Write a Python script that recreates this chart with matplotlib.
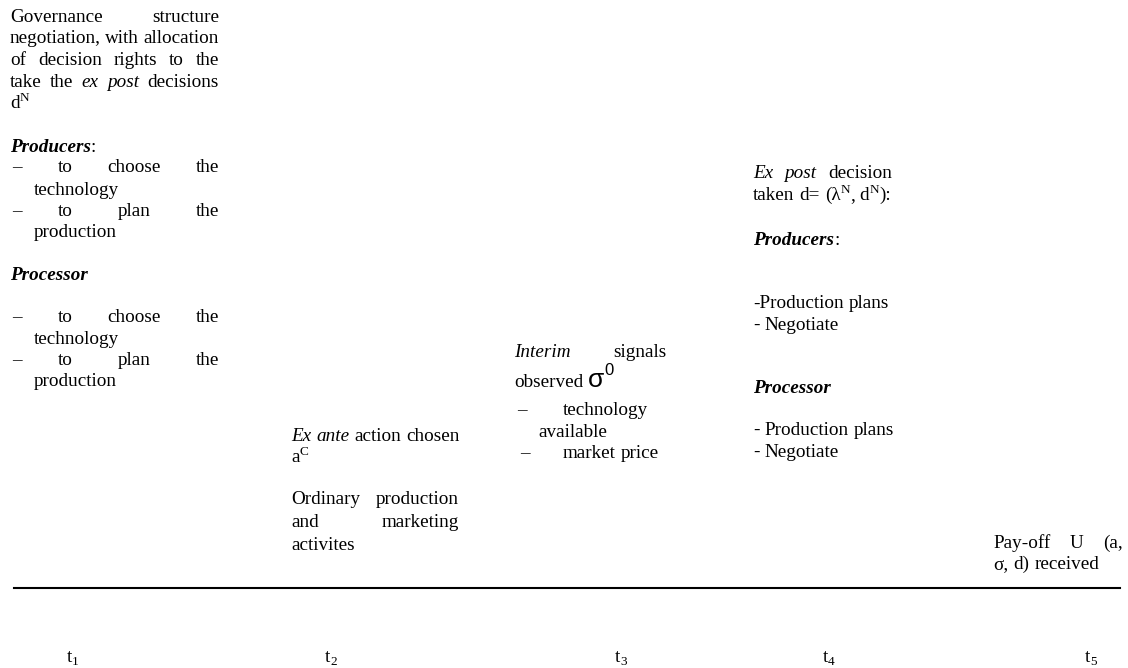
import re
import matplotlib.pyplot as plt

plt.rcParams['font.family'] = ['Liberation Serif', 'DejaVu Serif']

# markup: **bold italic**, *italic*, ^superscript^, _subscript_, {big sans}, [raised sup]
col1_lines = [
    "Governance structure",
    "negotiation, with allocation",
    "of decision rights  to the",
    "take the *ex post* decisions",
    "d^N^",
    "**Producers**:",
    "–", "to choose the", "technology",
    "–", "to plan the", "production",
    "**Processor**",
    "–", "to choose the", "technology",
    "–", "to plan the", "production",
]
col2_lines = [
    "*Ex ante* action chosen",
    "a^C^",
    "Ordinary production",
    "and marketing",
    "activites",
]
col3_lines = [
    "*Interim* signals",
    "observed {σ}[0]",
    "–", "technology",
    "available",
    "–", "market price",
]
col4_lines = [
    "*Ex post* decision",
    "taken d= (λ^N^, d^N^):",
    "**Producers**:",
    "-Production plans",
    "- Negotiate",
    "**Processor**",
    "- Production plans",
    "- Negotiate",
]
col5_lines = [
    "Pay-off U (a,",
    "σ, d) received",
]
time_labels = ["t_1_", "t_2_", "t_3_", "t_4_", "t_5_"]

# positions: (left x, baseline y, right x for justified lines or None)
col1_pos = [
    (10, 22, 219), (10, 43, 219), (10, 65, 219), (10, 87, 219), (10, 108, None),
    (10, 152, None),
    (12, 172, None), (58, 172, 219), (34, 195, None),
    (12, 216, None), (58, 216, 219), (34, 237, None),
    (10, 280, None),
    (12, 322, None), (58, 322, 219), (34, 344, None),
    (12, 365, None), (58, 365, 219), (34, 386, None),
]
col2_pos = [(291, 441, 460), (291, 462, None), (291, 504, 459), (291, 527, 459), (291, 550, None)]
col3_pos = [(514, 357, 667), (514, 387, None), (517, 415, None), (563, 415, None),
            (538, 437, None), (520, 458, None), (563, 458, None)]
col4_pos = [(753, 178, 892), (753, 200, None), (753, 245, None), (753, 308, None),
            (753, 330, None), (753, 393, None), (753, 435, None), (753, 457, None)]
col5_pos = [(993, 548, 1123), (993, 569, None)]
time_x = [67, 325, 615, 823, 1085]
time_y = 662
line_y = 588

BODY = 13.8
STYLES = {
    'n': dict(size=BODY),
    'i': dict(size=BODY, style='italic'),
    'bi': dict(size=BODY, style='italic', weight='bold'),
    'sup': dict(size=9.5),
    'sub': dict(size=9.5),
    'big': dict(size=19, family='Liberation Sans'),
    'hsup': dict(size=12, family='Liberation Sans'),
}
SHIFT = {'sup': -7, 'sub': 3, 'hsup': -12}

fig = plt.figure(figsize=(11.28, 6.68), dpi=100)
ax = fig.add_axes([0, 0, 1, 1])
ax.set_xlim(0, 1128)
ax.set_ylim(668, 0)
ax.axis('off')
renderer = fig.canvas.get_renderer()

pattern = re.compile(r'\*\*(.+?)\*\*|\*(.+?)\*|\^(.+?)\^|_(.+?)_|\{(.+?)\}|\[(.+?)\]|([^*^_{}\[\]]+)')
KINDS = ['bi', 'i', 'sup', 'sub', 'big', 'hsup', 'n']


def parse(s):
    runs = []
    for m in pattern.finditer(s):
        for kind, g in zip(KINDS, m.groups()):
            if g:
                runs.append((g, kind))
                break
    words = [[]]
    for text, kind in runs:
        parts = text.split(' ')
        for k, p in enumerate(parts):
            if k > 0:
                words.append([])
            if p:
                words[-1].append((p, kind))
    return [w for w in words if w]


def make_word(word, y):
    arts = []
    for text, kind in word:
        t = ax.text(0, y + SHIFT.get(kind, 0), text, ha='left', va='baseline',
                    color='black', **STYLES[kind])
        arts.append((t, t.get_window_extent(renderer).width))
    return arts, sum(w for _, w in arts)


def draw_line(s, x0, y, x1=None):
    words = [make_word(w, y) for w in parse(s)]
    total = sum(w for _, w in words)
    gap = 5
    if x1 is not None and len(words) > 1:
        gap = (x1 - x0 - total) / (len(words) - 1)
    x = x0
    for arts, w in words:
        xx = x
        for t, tw in arts:
            t.set_x(xx)
            xx += tw
        x += w + gap


for lines, pos in [(col1_lines, col1_pos), (col2_lines, col2_pos), (col3_lines, col3_pos),
                   (col4_lines, col4_pos), (col5_lines, col5_pos)]:
    for s, (x0, y, x1) in zip(lines, pos):
        draw_line(s, x0, y, x1)

ax.plot([14, 1120], [line_y, line_y], color='black', lw=1.5)

for lab, x in zip(time_labels, time_x):
    draw_line(lab, x, time_y)

fig.savefig('out.png', dpi=100)
